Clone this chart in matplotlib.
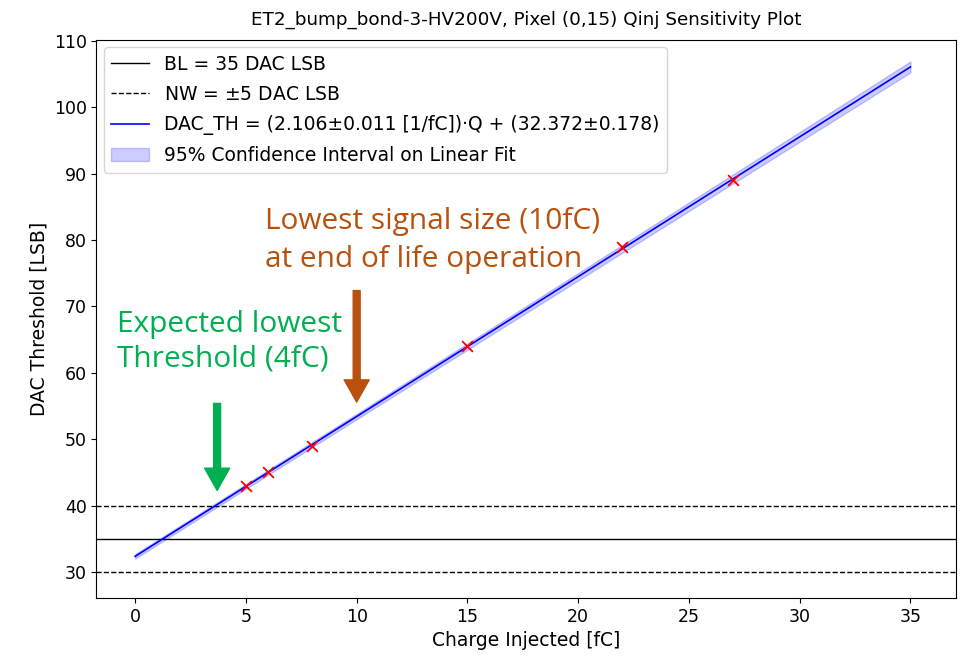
import matplotlib.pyplot as plt
import numpy as np

# measured points
charge = [5, 6, 8, 15, 22, 27]
dac_th = [43, 45, 49, 64, 79, 89]

slope, slope_err = 2.106, 0.011
offset, offset_err = 32.372, 0.178
baseline = 35
noise_width = 5

q = np.linspace(0, 35, 200)
fit = slope * q + offset
# rough 95% band from the fit errors
band = 1.96 * np.sqrt((slope_err * q) ** 2 + offset_err ** 2)

fig, ax = plt.subplots(figsize=(9.64, 6.6), dpi=100)
plt.subplots_adjust(left=0.1, right=0.992, top=0.94, bottom=0.094)

ax.axhline(baseline, color='k', lw=1, label='BL = 35 DAC LSB')
ax.axhline(baseline + noise_width, color='k', ls='--', lw=1, label='NW = $\\pm$5 DAC LSB')
ax.axhline(baseline - noise_width, color='k', ls='--', lw=1)
ax.plot(q, fit, color='blue', lw=1.2,
        label='DAC_TH = (2.106±0.011 [1/fC])·Q + (32.372±0.178)')
ax.fill_between(q, fit - band, fit + band, color='blue', alpha=0.2,
                label='95% Confidence Interval on Linear Fit')
ax.scatter(charge, dac_th, marker='x', color='red', s=60, lw=1.3, zorder=3)

ax.set_xlim(-1.75, 37.07)
ax.set_ylim(26.1, 110.2)
ax.set_xticks(range(0, 36, 5))
ax.set_yticks(range(30, 111, 10))
ax.tick_params(labelsize=12.5)
ax.set_xlabel('Charge Injected [fC]', fontsize=13.5)
ax.set_ylabel('DAC Threshold [LSB]', fontsize=13.5)
ax.set_title('ET2_bump_bond-3-HV200V, Pixel (0,15) Qinj Sensitivity Plot', fontsize=13.2, pad=11)
ax.legend(loc='upper left', fontsize=13.5, borderaxespad=0.4, labelspacing=0.6)

orange = '#B8510D'
green = '#00B050'
ax.text(5.86, 80.0, 'Lowest signal size (10fC)\nat end of life operation',
        color=orange, fontsize=21.5, family='Open Sans', va='center', linespacing=1.4)
ax.text(-0.81, 64.7, 'Expected lowest\nThreshold (4fC)',
        color=green, fontsize=21.5, family='Open Sans', va='center', linespacing=1.25)
ax.annotate('', xy=(10, 55.6), xytext=(10, 72.4),
            arrowprops=dict(color=orange, width=5, headwidth=18, headlength=16))
ax.annotate('', xy=(3.7, 42.3), xytext=(3.7, 55.4),
            arrowprops=dict(color=green, width=5, headwidth=18, headlength=16))

plt.savefig('out.png')
